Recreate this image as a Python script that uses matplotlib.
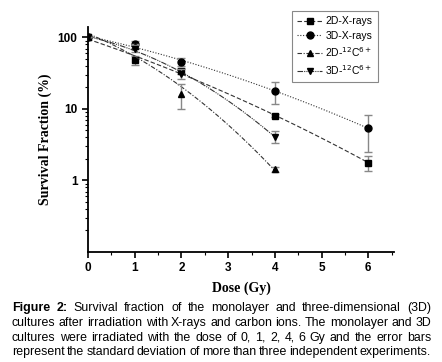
import numpy as np
import matplotlib
matplotlib.use("Agg")
import matplotlib.pyplot as plt
from matplotlib.ticker import FixedLocator, FixedFormatter, MultipleLocator

## DATA ##
dose_x = [0, 1, 2, 4, 6]
dose_c = [0, 1, 2, 4]
sf_2d_xray = [100, 48, 34, 8.1, 1.77]
err_2d_xray = [0, 7, 3, 0.5, 0.42]
sf_3d_xray = [100, 80, 46, 17.6, 5.4]
err_3d_xray = [0, 8, 6, 6, 2.9]
sf_2d_c = [100, 75, 16, 1.43]
err_2d_c = [0, 6, 6, 0.1]
sf_3d_c = [100, 70, 31, 4.1]
err_3d_c = [0, 8, 5, 0.8]
labels = ['2D-X-rays', '3D-X-rays', r'2D-$^{12}$C$^{6+}$', r'3D-$^{12}$C$^{6+}$']

caption = [
    "Figure 2: Survival fraction of the monolayer and three-dimensional (3D)",
    "cultures after irradiation with X-rays and carbon ions. The monolayer and 3D",
    "cultures were irradiated with the dose of 0, 1, 2, 4, 6 Gy and the error bars",
    "represent the standard deviation of more than three independent experiments.",
]

## FIGURA ##
W, H = 442, 362
fig = plt.figure(figsize=(W / 100, H / 100), dpi=100)
ax = fig.add_axes([88 / W, 1 - 252 / H, (394 - 88) / W, (252 - 27) / H])

series = [
    (dose_x, sf_2d_xray, err_2d_xray, 's', (0, (4, 2))),
    (dose_x, sf_3d_xray, err_3d_xray, 'o', (0, (1, 1.5))),
    (dose_c, sf_2d_c, err_2d_c, '^', (0, (4, 1.5, 1, 1.5))),
    (dose_c, sf_3d_c, err_3d_c, 'v', (0, (5, 1, 1, 1, 1, 1))),
]

handles = []
for (d, sf, err, mk, ls), lab in zip(series, labels):
    d = np.array(d, dtype=float)
    sf = np.array(sf, dtype=float)
    # ajuste quadratico no log (modelo LQ)
    coef = np.polyfit(d, np.log10(sf), 2)
    xx = np.linspace(0, d.max(), 100)
    ax.plot(xx, 10 ** np.polyval(coef, xx), color='#333333', lw=0.8, linestyle=ls)
    ax.errorbar(d, sf, yerr=err, fmt='none', ecolor='#888888', elinewidth=1, capsize=3, capthick=1)
    ax.plot(d, sf, linestyle='none', marker=mk, color='black', ms=5)
    h, = ax.plot([], [], color='#333333', lw=0.8, linestyle=ls, marker=mk, ms=5, mfc='black', mec='black')
    handles.append(h)

ax.set_yscale('log')
ax.set_xlim(0, 6.55)
ax.set_ylim(0.1, 140)
ax.spines['top'].set_visible(False)
ax.spines['right'].set_visible(False)
ax.spines['left'].set_linewidth(1.3)
ax.spines['bottom'].set_linewidth(1.3)

ax.xaxis.set_major_locator(MultipleLocator(1))
ax.xaxis.set_minor_locator(MultipleLocator(0.5))
ax.yaxis.set_major_locator(FixedLocator([1, 10, 100]))
ax.yaxis.set_major_formatter(FixedFormatter(['1', '10', '100']))
minors = [m * 10.0 ** e for e in (-1, 0, 1) for m in range(2, 10)]
ax.yaxis.set_minor_locator(FixedLocator(minors))
ax.yaxis.set_minor_formatter(FixedFormatter([''] * len(minors)))
ax.tick_params(which='major', direction='out', length=4, width=1.2, labelsize=8.5)
ax.tick_params(which='minor', direction='out', length=2, width=0.8)
for t in ax.get_xticklabels() + ax.get_yticklabels():
    t.set_fontweight('bold')
    t.set_family('Liberation Sans')

ax.set_xlabel('Dose (Gy)', family='Liberation Serif', fontweight='bold', fontsize=10, labelpad=5)
ax.set_ylabel('Survival Fraction (%)', family='Liberation Serif', fontweight='bold', fontsize=10, labelpad=4)

leg = fig.legend(handles, labels, loc='upper right', bbox_to_anchor=(383 / W, 1 - 6 / H),
                 bbox_transform=fig.transFigure, fancybox=False, edgecolor='#888888',
                 prop={'family': 'Liberation Sans', 'size': 7.5}, handlelength=2.4,
                 handletextpad=0.3, borderpad=0.5, labelspacing=0.4, framealpha=1)
leg.get_frame().set_linewidth(0.8)

## LEGENDA DA FIGURA (justificada) ##
fig.canvas.draw()
r = fig.canvas.get_renderer()
left, right = 12, 431
bases = [311, 326, 341, 355]
for i, (linha, yb) in enumerate(zip(caption, bases)):
    palavras = linha.split(' ')
    textos = []
    for j, p in enumerate(palavras):
        peso = 'bold' if (i == 0 and j < 2) else 'normal'
        t = fig.text(0, 1 - yb / H, p, family='Liberation Sans', fontsize=8.9,
                     fontweight=peso, va='baseline', ha='left')
        textos.append(t)
    larg = [t.get_window_extent(r).width for t in textos]
    gap = (right - left - sum(larg)) / (len(textos) - 1)
    x = left
    for t, w in zip(textos, larg):
        t.set_x(x / W)
        x += w + gap

fig.savefig('out.png', dpi=100)
